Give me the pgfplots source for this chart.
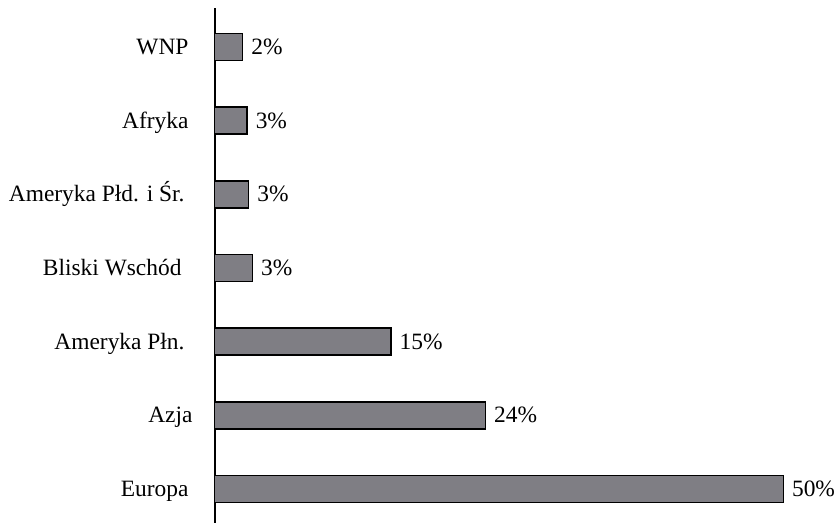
\documentclass[border=0pt]{standalone}
\usepackage{pgfplots}
\usepackage{pgfplotstable}
\pgfplotsset{compat=1.18}
\usepackage{fontspec}
\setmainfont{Liberation Serif}
\definecolor{barfill}{RGB}{127,126,132}
\pgfplotstableread{
y val lab
0 50.0 50
1 23.8 24
2 15.5 15
3 3.31 3
4 2.99 3
5 2.84 3
6 2.46 2
}\datatable
\begin{document}
\begin{tikzpicture}[x=1bp,y=1bp]
\path[use as bounding box] (0,0) rectangle (837,523);
\begin{axis}[
  at={(214.7bp,0bp)}, anchor=south west,
  scale only axis, width=568.6bp, height=515bp,
  xmin=0, xmax=50, ymin=-0.46, ymax=6.53,
  axis x line=none, axis y line*=left,
  y axis line style={line width=1.6bp, black},
  xbar, bar width=27bp,
  ytick={0,...,6},
  yticklabels={Europa, {Azja\kern-4bp}, {Ameryka Płn.\kern4bp}, {Bliski Wschód\kern7bp}, {Ameryka Płd. i Śr.\kern4bp}, Afryka, WNP},
  major tick length=0pt,
  yticklabel style={anchor=base east, inner sep=0pt, xshift=-26bp, yshift=-7.5bp, font=\fontsize{23.5}{27}\selectfont},
  clip=false,
]
\addplot[fill=barfill, draw=black, line width=1.5bp,
  point meta=explicit symbolic,
  nodes near coords={\pgfplotspointmeta\%},
  nodes near coords style={anchor=base west, inner sep=0pt, xshift=8bp, yshift=-7.5bp, font=\fontsize{23.5}{27}\selectfont, text=black},
] table[x=val, y=y, meta=lab] {\datatable};
\end{axis}
\end{tikzpicture}
\end{document}
